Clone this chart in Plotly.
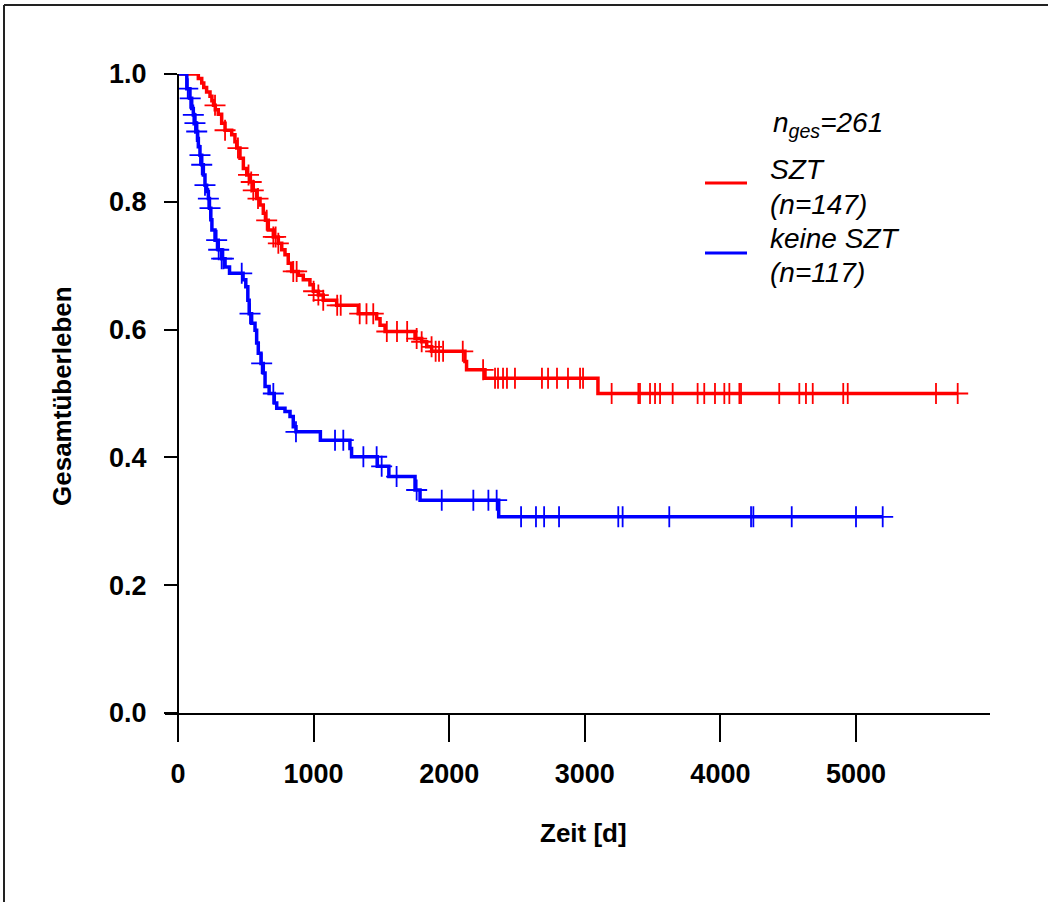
import numpy as np
import plotly.graph_objects as go

# ---------------- data ----------------
# SZT group: step times (days) and survival after each step
szt_step_t = [0, 150, 175, 190, 211, 236, 250, 262, 275, 297, 322, 347, 396, 420, 433,
              457, 482, 507, 531, 555, 580, 605, 629, 645, 666, 703, 740, 765, 789, 813,
              838, 887, 924, 973, 998, 1035, 1071, 1170, 1330, 1465, 1490, 1527, 1748,
              1797, 1834, 1871, 2116, 2128, 2264, 3097]
szt_step_s = [1.0, 0.993, 0.986, 0.979, 0.972, 0.965, 0.958, 0.951, 0.944, 0.937, 0.923,
              0.912, 0.905, 0.894, 0.884, 0.868, 0.852, 0.842, 0.831, 0.818, 0.805, 0.795,
              0.782, 0.771, 0.756, 0.745, 0.735, 0.725, 0.717, 0.704, 0.691, 0.685, 0.678,
              0.670, 0.660, 0.654, 0.646, 0.638, 0.625, 0.617, 0.607, 0.597, 0.586, 0.581,
              0.573, 0.566, 0.550, 0.537, 0.524, 0.500]
szt_censor_t = [273, 347, 442, 520, 540, 555, 590, 654, 703, 720, 740, 850, 875, 1000,
                1035, 1071, 1174, 1200, 1340, 1390, 1440, 1540, 1615, 1690, 1760, 1797,
                1870, 1900, 1925, 1955, 2100, 2250, 2338, 2360, 2397, 2426, 2485, 2684,
                2729, 2795, 2876, 2965, 2987, 3198, 3395, 3407, 3481, 3518, 3555, 3648,
                3832, 3881, 3960, 4029, 4066, 4140, 4152, 4434, 4582, 4631, 4681, 4906,
                4939, 5590, 5750]

# keine SZT group
kein_step_t = [0, 65, 88, 101, 113, 125, 138, 145, 150, 162, 175, 187, 199, 211, 224, 232,
               242, 250, 273, 297, 322, 347, 380, 480, 500, 515, 525, 543, 568, 580, 592,
               612, 629, 642, 672, 710, 728, 789, 826, 850, 870, 1050, 1268, 1280, 1470,
               1555, 1748, 1785, 2365]
kein_step_s = [1.0, 0.977, 0.962, 0.946, 0.936, 0.923, 0.910, 0.899, 0.886, 0.873, 0.858,
               0.842, 0.826, 0.816, 0.805, 0.790, 0.772, 0.756, 0.740, 0.725, 0.711, 0.698,
               0.688, 0.678, 0.667, 0.646, 0.625, 0.610, 0.599, 0.579, 0.563, 0.547, 0.532,
               0.511, 0.500, 0.485, 0.477, 0.472, 0.464, 0.448, 0.440, 0.427, 0.414, 0.401,
               0.386, 0.370, 0.349, 0.333, 0.307]
kein_censor_t = [72, 90, 113, 125, 138, 162, 175, 199, 224, 236, 285, 300, 322, 335, 470,
                 531, 617, 703, 870, 1158, 1219, 1367, 1465, 1502, 1612, 1760, 1945, 2178,
                 2289, 2350, 2530, 2640, 2700, 2810, 3247, 3279, 3623, 4226, 4243, 4526,
                 5000, 5197]

x_ticks = [0, 1000, 2000, 3000, 4000, 5000]
y_ticks = [0.0, 0.2, 0.4, 0.6, 0.8, 1.0]
y_tick_labels = ["0.0", "0.2", "0.4", "0.6", "0.8", "1.0"]

legend_labels = [("SZT", "(n=147)"), ("keine SZT", "(n=117)")]
total_label = "<i>n<sub>ges</sub>=261</i>"
x_title = "Zeit [d]"
y_title = "Gesamtüberleben"

RED = "#FF0000"
BLUE = "#0000FF"
FONT = "Liberation Sans, Arial, Helvetica, sans-serif"


def km_line(step_t, step_s, censor_t):
    end_t = max(censor_t[-1], step_t[-1])
    xs = list(step_t) + [end_t]
    ys = list(step_s) + [step_s[-1]]
    idx = np.searchsorted(np.array(step_t), np.array(censor_t), side="right") - 1
    cy = [step_s[i] for i in idx]
    return xs, ys, cy


fig = go.Figure()
for step_t, step_s, cens, col in [(szt_step_t, szt_step_s, szt_censor_t, RED),
                                  (kein_step_t, kein_step_s, kein_censor_t, BLUE)]:
    xs, ys, cy = km_line(step_t, step_s, cens)
    fig.add_trace(go.Scatter(x=xs, y=ys, mode="lines", line=dict(color=col, width=3.5, shape="hv"),
                             showlegend=False, hoverinfo="skip", cliponaxis=False))
    fig.add_trace(go.Scatter(x=cens, y=cy, mode="markers",
                             marker=dict(symbol="cross-thin", size=15, color=col,
                                         line=dict(color=col, width=1.8)),
                             showlegend=False, cliponaxis=False))

# layout geometry: plot area 165..990 px horizontally, 74..713 px vertically
L, R, T, B = 165, 58, 74, 189
W, H = 1048, 902
pw, ph = W - L - R, H - T - B
px_per_day = 0.1356
x_left = -(178 - L) / px_per_day
x_right = (W - R - 178) / px_per_day

tickfont = dict(family=FONT, size=27, color="black", weight="bold")

fig.update_layout(
    width=W, height=H,
    margin=dict(l=L, r=R, t=T, b=B, pad=0),
    paper_bgcolor="white", plot_bgcolor="white",
    xaxis=dict(range=[x_left, x_right], tickvals=x_ticks, ticks="outside", ticklen=27,
               tickwidth=1.5, tickcolor="black", showline=True, linecolor="black", linewidth=2,
               showgrid=False, zeroline=False, tickfont=tickfont, ticklabelstandoff=9),
    yaxis=dict(range=[0, 1], tickvals=y_ticks, ticktext=y_tick_labels, ticks="outside",
               ticklen=13, tickwidth=1.5, tickcolor="black", showline=True, linecolor="black",
               linewidth=2, showgrid=False, zeroline=False, tickfont=tickfont,
               anchor="free", position=(178 - L) / pw, ticklabelstandoff=12),
    showlegend=False,
)


def px2x(p):
    return (p - L) / pw


def py2y(p):
    return (H - B - p) / ph


# outer frame (top and left edges of the original picture frame)
fig.add_shape(type="line", xref="paper", yref="paper", x0=px2x(4), x1=px2x(W + 5),
              y0=py2y(5), y1=py2y(5), line=dict(color="#222222", width=2))
fig.add_shape(type="line", xref="paper", yref="paper", x0=px2x(4), x1=px2x(4),
              y0=py2y(5), y1=py2y(H + 5), line=dict(color="#222222", width=2))

# legend
for (l1, l2), col, ly, ty1, ty2 in [(legend_labels[0], RED, 183, 170, 204),
                                    (legend_labels[1], BLUE, 253, 238, 272)]:
    fig.add_shape(type="line", xref="paper", yref="paper", x0=px2x(705), x1=px2x(747),
                  y0=py2y(ly), y1=py2y(ly), line=dict(color=col, width=3))
    for txt, ty in [(l1, ty1), (l2, ty2)]:
        fig.add_annotation(xref="paper", yref="paper", x=px2x(768), y=py2y(ty), text=txt,
                           showarrow=False, xanchor="left", yanchor="middle",
                           font=dict(family=FONT, size=28, color="black", style="italic"))

fig.add_annotation(xref="paper", yref="paper", x=px2x(771), y=py2y(124), text=total_label,
                   showarrow=False, xanchor="left", yanchor="middle",
                   font=dict(family=FONT, size=28, color="black"))

# axis titles
fig.add_annotation(xref="paper", yref="paper", x=px2x(583), y=py2y(833), text=x_title,
                   showarrow=False, xanchor="center", yanchor="middle",
                   font=dict(family=FONT, size=26, color="black", weight="bold"))
fig.add_annotation(xref="paper", yref="paper", x=px2x(62), y=py2y(396), text=y_title,
                   showarrow=False, xanchor="center", yanchor="middle", textangle=-90,
                   font=dict(family=FONT, size=26, color="black", weight="bold"))

fig.write_html("out.html")
